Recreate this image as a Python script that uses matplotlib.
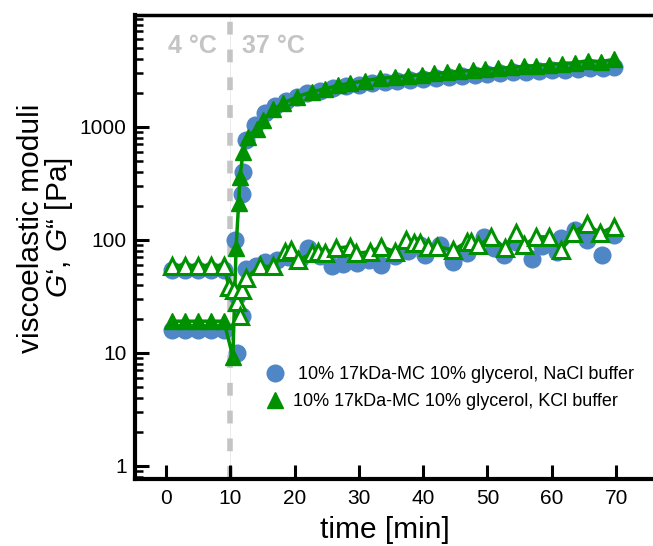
import matplotlib
matplotlib.use("Agg")
import matplotlib.pyplot as plt
from matplotlib.lines import Line2D
from matplotlib.ticker import LogLocator, NullFormatter, FixedLocator

plt.rcParams['font.family'] = ['Liberation Sans', 'DejaVu Sans']
plt.rcParams['mathtext.fontset'] = 'custom'
plt.rcParams['mathtext.it'] = 'Liberation Sans:italic'
plt.rcParams['mathtext.rm'] = 'Liberation Sans'

# NaCl buffer, storage modulus G'
t_nacl_g1 = [1, 3, 5, 7, 9,
             10.7, 11.1, 11.8, 11.9, 12.5, 13.8, 15.4, 17.0, 18.6, 20.3,
             22.0, 24.0, 26.0, 28.0, 30.0, 32.0, 34.0, 36.0, 38.0, 40.0,
             42.0, 44.0, 46.0, 48.0, 50.0, 52.0, 54.0, 56.0, 58.0, 60.0,
             62.0, 64.0, 66.0, 68.0, 69.7]
g1_nacl = [16, 16, 16, 16, 16,
           100, 9.9, 256, 400, 760, 1040, 1310, 1520, 1700, 1850,
           1970, 2080, 2180, 2270, 2350, 2420, 2490, 2550, 2610, 2670,
           2720, 2770, 2820, 2870, 2920, 2970, 3020, 3060, 3110, 3150,
           3200, 3250, 3300, 3340, 3400]

# NaCl buffer, loss modulus G''
t_nacl_g2 = [1, 3, 5, 7, 9,
             11.1, 11.8, 12.5, 14.0, 15.4, 17.2, 19.0, 20.8, 22.1, 23.9,
             25.8, 27.6, 29.7, 31.6, 33.5, 35.6, 37.6, 39.5, 40.3, 42.6,
             44.7, 46.8, 49.4, 51.0, 52.5, 54.5, 56.9, 58.5, 60.8, 61.5,
             63.6, 65.5, 67.8, 69.6]
g2_nacl = [54, 54, 54, 54, 54,
           32, 21, 55, 58, 64, 66, 70, 68, 84, 72,
           58, 61, 62, 66, 60, 72, 80, 90, 73, 90,
           64, 76, 106, 85, 73, 95, 68, 88, 78, 104,
           122, 100, 73, 110]

# KCl buffer, storage modulus G'
t_kcl_g1 = [1, 3, 5, 7, 9,
            10.4, 10.9, 11.3, 11.5, 12.0, 12.8, 14.1, 15.1, 16.7, 18.2,
            20.3, 22.7, 24.7, 26.8, 28.6, 30.9, 33.3,
            35.6, 37.7, 39.8, 41.7, 43.7, 45.6, 47.7, 49.6, 51.7,
            53.7, 55.7, 57.6, 59.6, 61.6, 63.6, 65.7, 67.6, 69.7]
g1_kcl = [19, 19, 19, 19, 19,
          9.2, 85, 210, 360, 600, 815, 960, 1140, 1420, 1610,
          1830, 2040, 2160, 2330, 2420, 2550, 2680,
          2750, 2820, 2890, 2960, 3020, 3090, 3150, 3220, 3280,
          3350, 3420, 3480, 3550, 3620, 3680, 3850, 3760, 3950]

# KCl buffer, loss modulus G''
t_kcl_g2 = [1, 3, 5, 7, 9,
            9.8, 10.6, 11.1, 11.5, 11.8, 12.5, 14.6, 16.7, 18.5, 19.5,
            20.6, 22.7, 23.7, 24.7, 26.5, 28.6, 29.6, 31.7, 33.5, 35.6,
            37.4, 38.5, 39.5, 40.8, 42.1, 44.7, 46.8, 47.5, 48.6, 50.6,
            52.7, 54.5, 55.6, 57.6, 59.5, 61.5, 63.3, 65.4, 67.5, 69.6]
g2_kcl = [59, 59, 59, 59, 59,
          38, 36, 28, 21, 36, 46, 58, 58, 78, 81,
          66, 76, 78, 76, 84, 87, 76, 78, 87, 78,
          99, 93, 93, 87, 87, 81, 96, 96, 89, 106,
          84, 114, 89, 106, 106, 81, 114, 139, 114, 130]

x_ticks = [0, 10, 20, 30, 40, 50, 60, 70]
y_ticks = [1, 10, 100, 1000]
labels = [" 10% 17kDa-MC 10% glycerol, NaCl buffer",
          "10% 17kDa-MC 10% glycerol, KCl buffer"]

blue = "#4f86c6"
green = "#009100"
grey = "#c4c4c4"

fig = plt.figure(figsize=(6.53, 5.46), dpi=100)
ax = fig.add_axes([135 / 653, 67 / 546, 518 / 653, 464 / 546])

ax.axvline(10, color="#e8e8e8", lw=0.6, zorder=0)
ax.axvline(10, color=grey, lw=4, ls=(0, (2.3, 2.7)), zorder=1)

ax.plot(t_nacl_g1, g1_nacl, "o", color=blue, ms=13, mew=0, zorder=2)
ax.plot(t_nacl_g2, g2_nacl, "o", color=blue, ms=13, mew=0, zorder=2)

ax.plot(t_kcl_g1, g1_kcl, "-^", color=green, lw=2.5, ms=12, mew=1, zorder=3)
ax.plot(t_kcl_g2, g2_kcl, "-^", color=green, lw=2.5, ms=11.5, mew=2.2,
        mfc="white", zorder=4)

ax.set_yscale("log")
ax.set_xlim(-4.82, 75.74)
ax.set_ylim(0.762, 9740)

ax.xaxis.set_major_locator(FixedLocator(x_ticks))
ax.yaxis.set_major_locator(FixedLocator(y_ticks))
ax.set_yticklabels([str(v) for v in y_ticks])
ax.yaxis.set_minor_locator(LogLocator(base=10, subs=range(2, 10), numticks=20))
ax.yaxis.set_minor_formatter(NullFormatter())

ax.tick_params(axis="both", which="major", direction="in", length=10,
               width=2.2, labelsize=15, color="black")
ax.tick_params(axis="x", pad=7)
ax.tick_params(axis="y", pad=6)
ax.tick_params(axis="y", which="minor", direction="in", length=5.5, width=1.8)

ax.spines["right"].set_visible(False)
for s in ["left", "bottom"]:
    ax.spines[s].set_linewidth(3)
ax.spines["top"].set_linewidth(2.5)

ax.text(0.3, 5200, "4 °C", color=grey, fontsize=18, fontweight="bold",
        va="center", ha="left")
ax.text(11.8, 5200, "37 °C", color=grey, fontsize=18, fontweight="bold",
        va="center", ha="left")

handles = [Line2D([], [], marker="o", ls="none", color=blue, ms=13, mew=0),
           Line2D([], [], marker="^", ls="none", color=green, ms=12, mew=1)]
ax.legend(handles, labels, loc="upper left", bbox_to_anchor=(0.253, 0.243),
          frameon=False, fontsize=13, handlelength=1.0, handletextpad=0.5,
          borderpad=0, borderaxespad=0, labelspacing=0.55)

fig.text(385 / 653, 1 - 530 / 546, "time [min]", fontsize=21.5,
         ha="center", va="center")
fig.text(46 / 653, 1 - 228 / 546, "viscoelastic moduli\n$G$‘, $G$“ [Pa]",
         fontsize=21.5, ha="center", va="center", rotation=90,
         linespacing=0.95)

fig.savefig("out.png", dpi=100)
